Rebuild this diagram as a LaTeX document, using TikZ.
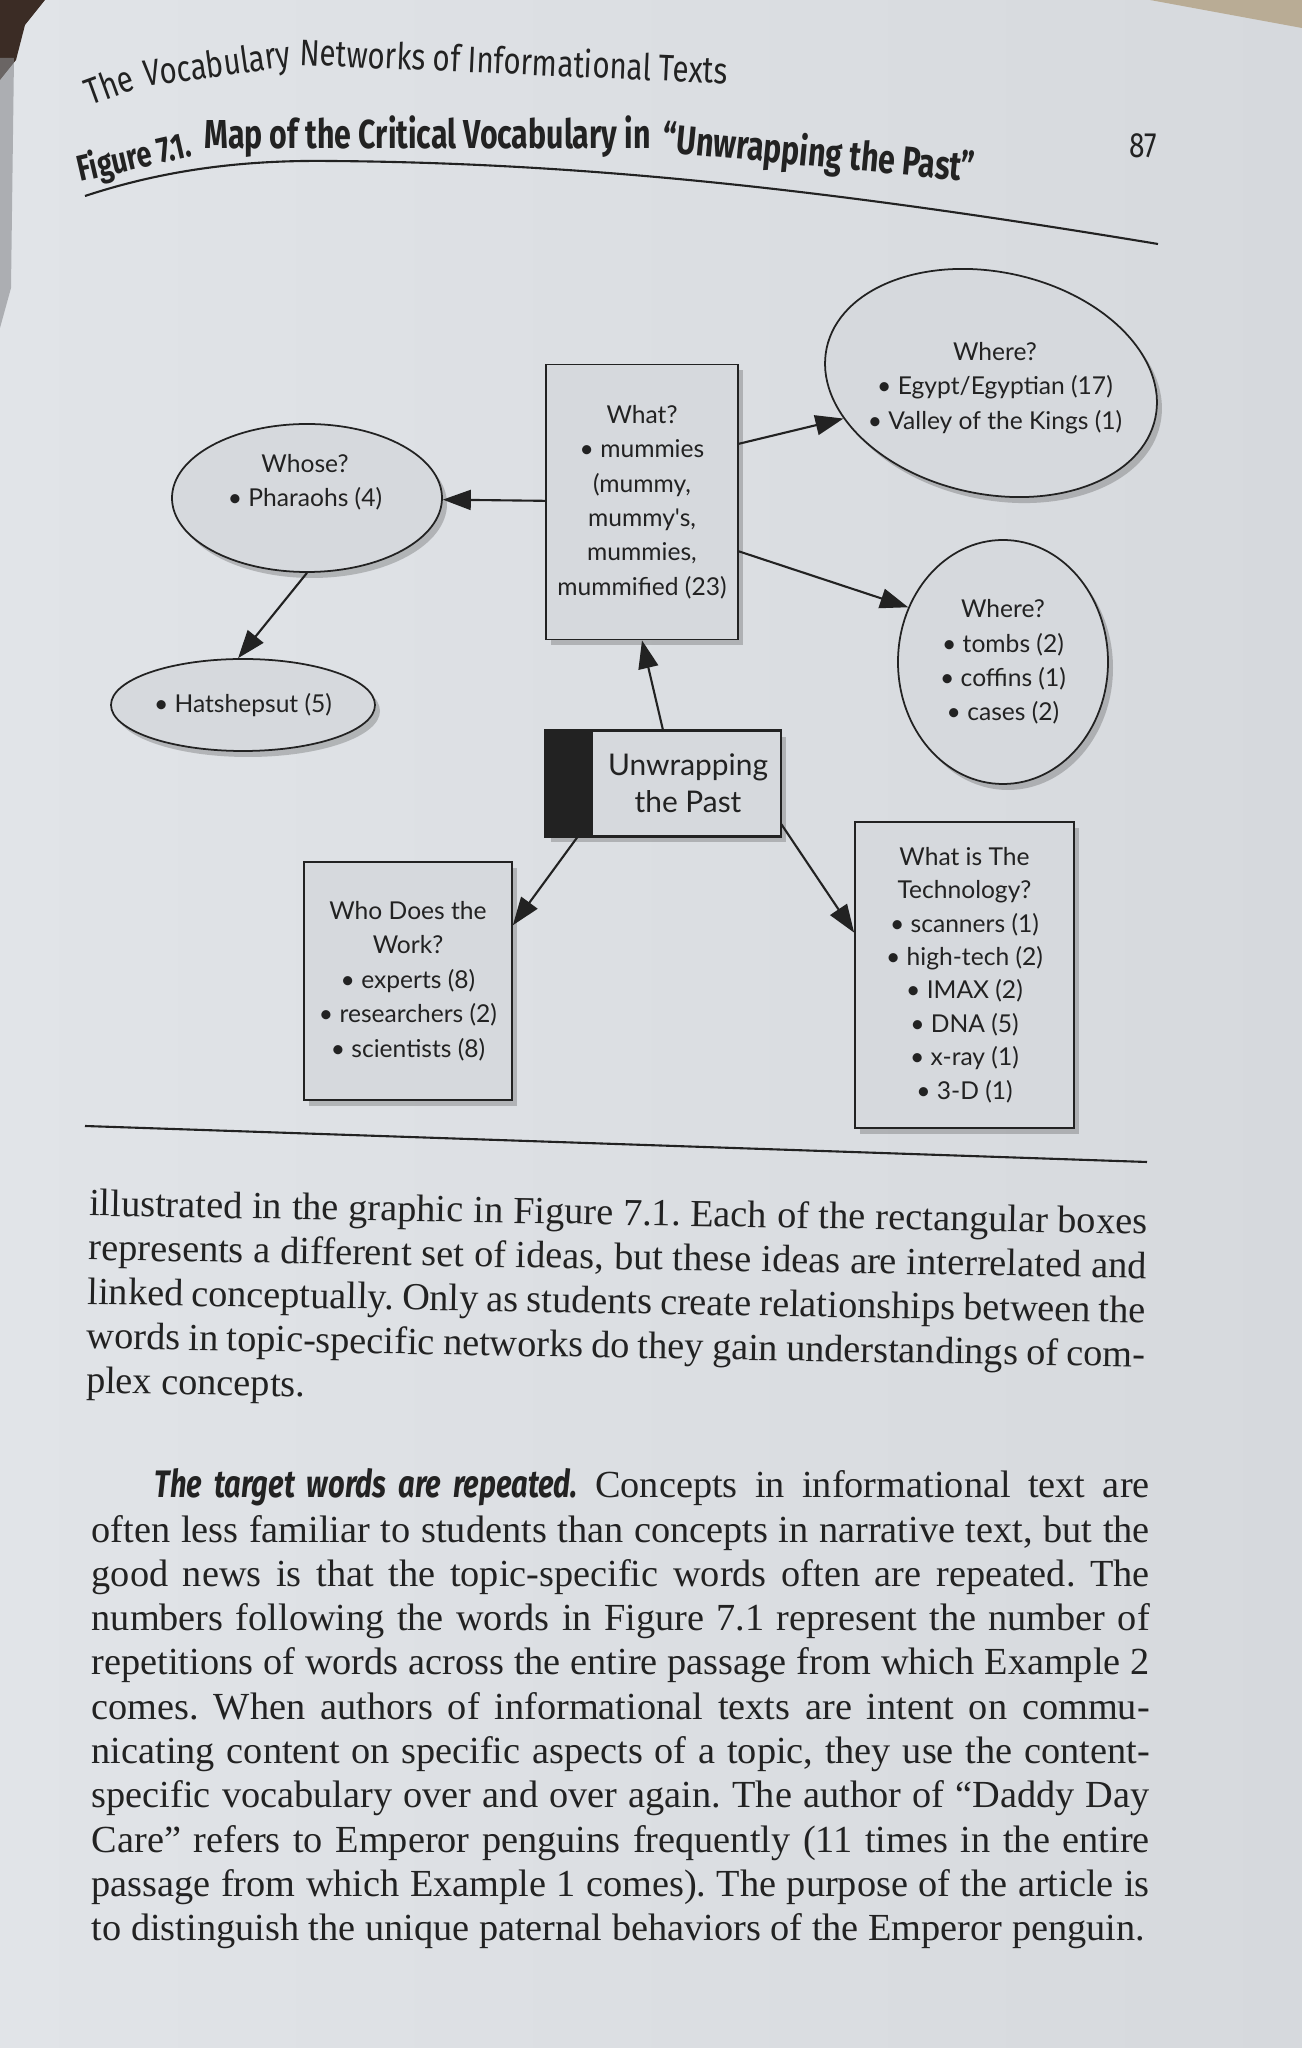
\documentclass[tikz,border=0pt]{standalone}
\usepackage{fontspec}
\setmainfont{Liberation Serif}
\newfontfamily\headfont{Fira Sans}[FakeStretch=0.8]
\newfontfamily\titlefont{Fira Sans}[FakeStretch=0.75]
\newfontfamily\leadfont{Fira Sans}[FakeStretch=0.76]
\newfontfamily\mapfont{Lato}
\usetikzlibrary{arrows.meta, positioning, calc, shapes.geometric, shadows}
\definecolor{pagelite}{HTML}{E1E4E8}
\definecolor{pagegray}{HTML}{D6D9DD}
\definecolor{inkgray}{HTML}{222222}
\definecolor{corner}{HTML}{3B2C25}
\definecolor{edgegray}{HTML}{8A8B8F}
\definecolor{cloth}{HTML}{B9AC95}
\newcommand{\bodyline}[1]{\makebox[10.58cm][s]{#1}}

\begin{document}
\begin{tikzpicture}[
  >={Triangle[length=2.8mm, width=2mm]},
  every node/.style={text=inkgray},
  mapshadow/.style={drop shadow={shadow xshift=0.5mm, shadow yshift=-0.6mm, fill=black!70, opacity=0.3}},
  wordbox/.style={rectangle, draw=inkgray, line width=0.5pt, fill=pagegray, mapshadow, align=center, inner sep=2pt, font=\mapfont\fontsize{7}{9.8}\selectfont},
  wordoval/.style={ellipse, draw=inkgray, line width=0.5pt, fill=pagegray, mapshadow, align=center, inner sep=0pt, font=\mapfont\fontsize{7}{9.8}\selectfont},
  wordtext/.style={align=center, font=\mapfont\fontsize{7}{9.8}\selectfont},
  link/.style={draw=inkgray, line width=0.6pt, ->},
  headtext/.style={anchor=base west, inner sep=0pt, font=\headfont\fontsize{10.5}{12}\selectfont},
  titletext/.style={anchor=base west, inner sep=0pt, font=\titlefont\bfseries\fontsize{11.5}{13}\selectfont},
  bodytext/.style={anchor=north west, align=left, inner sep=0pt, font=\fontsize{10.9}{12.6}\selectfont\frenchspacing},
]

% Background
\useasboundingbox (0,0) rectangle (13.02,20.48);
\shade[left color=pagelite, right color=pagegray] (0,0) rectangle (13.02,20.48);
\fill[corner] (0,20.48) -- (0.45,20.48) -- (0.25,20.23) -- (0.16,19.88) -- (0,19.68) -- cycle;
\fill[edgegray, opacity=0.6] (0,19.9) -- (0.14,19.9) -- (0.11,17.6) -- (0,17.2) -- cycle;
\fill[cloth] (11.5,20.48) -- (13.02,20.48) -- (13.02,20.2) -- cycle;

% Running head and page number (the page curls, so the words bend)
\node[headtext, rotate=20] (headA) at (0.9,19.42) {The};
\node[headtext, rotate=8] (headB) at ($(headA.base east)+(0.08,0.02)$) {Vocabulary};
\node[headtext, rotate=-2.5] (headC) at ($(headB.base east)+(0.06,0.01)$) {Networks of Informational Texts};
\node[font=\headfont\fontsize{10}{12}\selectfont] (pagenum) at (11.43,19.02) {87};

% Figure title
\node[titletext, rotate=13, font=\titlefont\bfseries\fontsize{10.3}{12}\selectfont] (titleA) at (0.8,18.66) {Figure 7.1.};
\node[titletext] (titleB) at ($(titleA.base east)+(0.1,0.07)$) {Map of the Critical Vocabulary in};
\node[titletext, rotate=-5.5] (titleC) at ($(titleB.base east)+(0.1,-0.03)$) {“Unwrapping the Past”};
\draw[inkgray, line width=0.6pt] (0.85,18.52) .. controls (1.7,18.8) and (2.5,18.88) .. (3.3,18.87) .. controls (6,18.85) and (8.5,18.55) .. (11.58,18.04);

% What?
\node[wordbox, minimum width=1.92cm, minimum height=2.75cm] (what) at (6.42,15.46) {What?\\\textbullet\ mummies\\(mummy,\\mummy's,\\mummies,\\mummified (23)};

% Whose?
\node[wordoval, minimum width=2.7cm, minimum height=1.48cm] (whose) at (3.07,15.5) {};
\node[wordtext] (whosetxt) at (3.05,15.66) {Whose?\\\textbullet\ Pharaohs (4)};

% Hatshepsut
\node[wordoval, minimum width=2.64cm, minimum height=0.92cm] (hats) at (2.43,13.43) {\textbullet\ Hatshepsut (5)};

% Where? (places)
\node[wordoval, minimum width=3.36cm, minimum height=2.22cm, rotate=-12] (where1) at (9.91,16.65) {};
\node[wordtext] (where1txt) at (9.95,16.6) {Where?\\\textbullet\ Egypt/Egyptian (17)\\\textbullet\ Valley of the Kings (1)};

% Where? (burials)
\node[wordoval, minimum width=2.1cm, minimum height=2.44cm] (where2) at (10.03,13.86) {Where?\\\textbullet\ tombs (2)\\\textbullet\ coffins (1)\\\textbullet\ cases (2)};

% Unwrapping the Past
\node[wordbox, minimum width=2.35cm, minimum height=1.05cm] (unwrap) at (6.63,12.645) {};
\fill[inkgray] (unwrap.north west) rectangle ($(unwrap.south west)+(0.48,0)$);
\draw[inkgray, line width=0.5pt] (unwrap.north west) rectangle (unwrap.south east);
\node[align=center, font=\mapfont\fontsize{8.5}{10.4}\selectfont] (unwraptxt) at ($(unwrap.center)+(0.25,0)$) {Unwrapping\\the Past};

% Who Does the Work?
\node[wordbox, minimum width=2.08cm, minimum height=2.38cm] (who) at (4.08,10.67) {Who Does the\\Work?\\\textbullet\ experts (8)\\\textbullet\ researchers (2)\\\textbullet\ scientists (8)};

% What is The Technology?
\node[wordbox, minimum width=2.19cm, minimum height=3.06cm, font=\mapfont\fontsize{7}{9.5}\selectfont] (tech) at (9.645,10.73) {What is The\\Technology?\\\textbullet\ scanners (1)\\\textbullet\ high-tech (2)\\\textbullet\ IMAX (2)\\\textbullet\ DNA (5)\\\textbullet\ x-ray (1)\\\textbullet\ 3-D (1)};

% Links
\draw[link] (what) -- (whose);
\draw[link] (whose.south) -- (hats.96);
\draw[link] (what.31) -- (where1);
\draw[link] (what.-27) -- (where2.150);
\draw[link] (unwrap.north) -- (what.south);
\draw[link] (unwrap.212) -- (who.28);
\draw[link] (unwrap.-19) -- (tech.159);

% Rule closing the figure
\draw[inkgray, line width=0.6pt] (0.85,9.22) -- (11.47,8.86);

% Body text
\node[bodytext, rotate=-1] (para1) at (0.89,8.6) {%
\bodyline{illustrated in the graphic in Figure 7.1. Each of the rectangular boxes}\\
\bodyline{represents a different set of ideas, but these ideas are interrelated and}\\
\bodyline{linked conceptually. Only as students create relationships between the}\\
\bodyline{words in topic-specific networks do they gain understandings of com-}\\
plex concepts.};

\node[bodytext] (para2) at (0.91,5.80) {%
\bodyline{\hspace*{0.63cm}{\leadfont\bfseries\itshape The target words are repeated.} Concepts in informational text are}\\
\bodyline{often less familiar to students than concepts in narrative text, but the}\\
\bodyline{good news is that the topic-specific words often are repeated. The}\\
\bodyline{numbers following the words in Figure 7.1 represent the number of}\\
\bodyline{repetitions of words across the entire passage from which Example 2}\\
\bodyline{comes. When authors of informational texts are intent on commu-}\\
\bodyline{nicating content on specific aspects of a topic, they use the content-}\\
\bodyline{specific vocabulary over and over again. The author of “Daddy Day}\\
\bodyline{Care” refers to Emperor penguins frequently (11 times in the entire}\\
\bodyline{passage from which Example 1 comes). The purpose of the article is}\\
to distinguish the unique paternal behaviors of the Emperor penguin.};

\end{tikzpicture}
\end{document}
